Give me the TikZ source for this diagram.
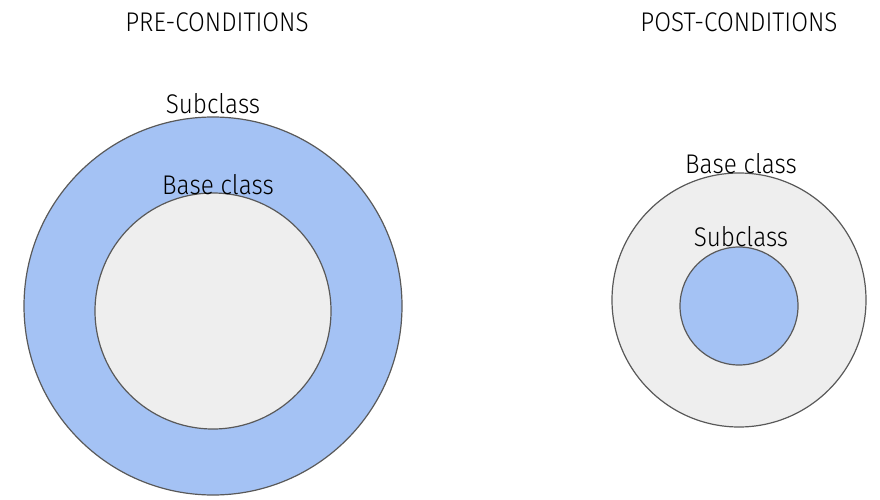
\documentclass[tikz,border=0pt]{standalone}
\usepackage{fontspec}
\setmainfont[FakeStretch=0.9]{Fira Sans Light}
\definecolor{subblue}{HTML}{A4C2F4}
\definecolor{basegray}{HTML}{EEEEEE}
\definecolor{rimgray}{HTML}{595959}
\tikzset{
  set/.style={circle,draw=rimgray,line width=1.2pt,inner sep=0pt},
  subset/.style={set,fill=subblue},
  baseset/.style={set,fill=basegray},
  label/.style={anchor=base,font=\fontsize{27}{30}\selectfont,inner sep=0pt}
}
\begin{document}
\begin{tikzpicture}[x=1pt,y=1pt]
  \useasboundingbox (0,0) rectangle (880,499);
  % pre-conditions: subclass accepts more
  \node[subset,minimum size=378pt] (preSub) at (213,193) {};
  \node[baseset,minimum size=236pt] (preBase) at (213,188) {};
  \node[label] (preTitle) at (217,467) {PRE-CONDITIONS};
  \node[label] (preSubLbl) at (213,385) {Subclass};
  \node[label] (preBaseLbl) at (218,305) {Base class};

  % post-conditions: subclass promises more
  \node[baseset,minimum size=254pt] (postBase) at (739,199) {};
  \node[subset,minimum size=118pt] (postSub) at (739,193) {};
  \node[label] (postTitle) at (739,467) {POST-CONDITIONS};
  \node[label] (postBaseLbl) at (741,326) {Base class};
  \node[label] (postSubLbl) at (741,253) {Subclass};
\end{tikzpicture}
\end{document}
